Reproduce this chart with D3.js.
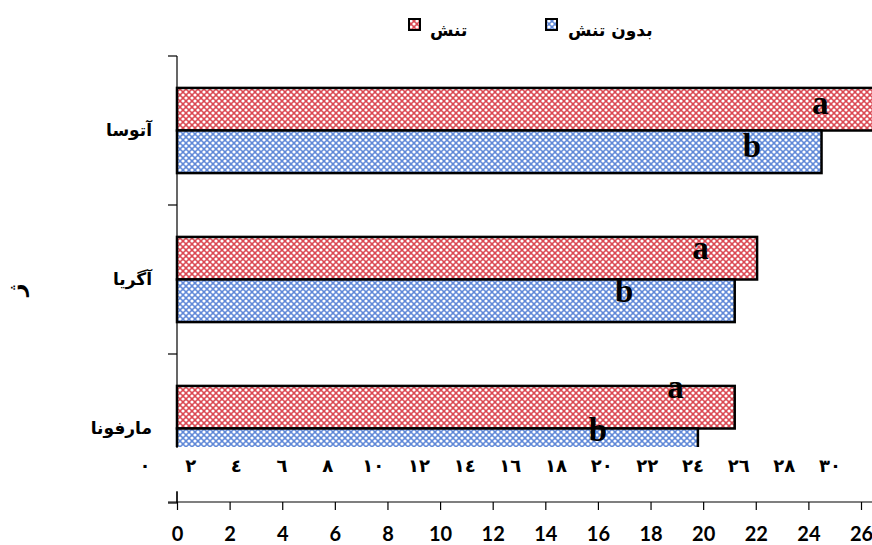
<!DOCTYPE html>
<html>
<head>
<meta charset="utf-8">
<script src="https://cdn.jsdelivr.net/npm/d3@7"></script>
<style>
  body { margin: 0; background: #fff; }
  svg { display: block; }
</style>
</head>
<body>
<div id="chart"></div>
<script>
// data
var genotypes = ["آتوسا", "آگریا", "مارفونا"];
var seriesNames = ["تنش", "بدون تنش"];
var stressValues = [27.2, 22.05, 21.2];
var noStressValues = [24.5, 21.2, 19.8];
var stressLetters = ["a", "a", "a"];
var noStressLetters = ["b", "b", "b"];
// where the letters sit, in axis units
var stressLetterAt = [24.45, 19.9, 18.95];
var noStressLetterAt = [21.85, 17.0, 16.0];
var letterLift = [6, 10, 20];
var xTicks = [0, 2, 4, 6, 8, 10, 12, 14, 16, 18, 20, 22, 24, 26];
var arabicTicks = [0, 2, 4, 6, 8, 10, 12, 14, 16, 18, 20, 22, 24, 26, 28, 30];

var width = 872, height = 545;
var colors = { "تنش": "#db4852", "بدون تنش": "#6089d8" };

var svg = d3.select("#chart").append("svg")
    .attr("width", width)
    .attr("height", height);

// hatch patterns
var defs = svg.append("defs");
seriesNames.forEach(function(s, i) {
  var p = defs.append("pattern")
      .attr("id", "hatch" + i)
      .attr("patternUnits", "userSpaceOnUse")
      .attr("width", 6).attr("height", 6);
  p.append("rect").attr("width", 6).attr("height", 6).attr("fill", colors[s]);
  [[0, 0], [6, 0], [0, 6], [6, 6], [3, 3]].forEach(function(c) {
    p.append("circle").attr("cx", c[0]).attr("cy", c[1]).attr("r", 1.6).attr("fill", "#fff");
  });
});
defs.append("clipPath").attr("id", "plotClip")
  .append("rect").attr("x", 0).attr("y", 0).attr("width", width).attr("height", 447);

// scales
var x = d3.scaleLinear().domain([0, 26]).range([177, 861]);
var y = d3.scaleBand().domain(genotypes).range([56, 503]).paddingInner(0).paddingOuter(0);
var ySub = d3.scaleBand().domain(seriesNames).range([0, y.bandwidth()]).paddingInner(0).paddingOuter(0.75);
var xArabic = d3.scaleLinear().domain([0, 30]).range([145, 830]);

var rows = genotypes.map(function(g, i) {
  return {
    g: g, i: i,
    bars: [
      { s: seriesNames[0], k: 0, v: stressValues[i], letter: stressLetters[i], at: stressLetterAt[i] },
      { s: seriesNames[1], k: 1, v: noStressValues[i], letter: noStressLetters[i], at: noStressLetterAt[i] }
    ]
  };
});

var plot = svg.append("g").attr("clip-path", "url(#plotClip)");

var groups = plot.selectAll("g.row")
    .data(rows)
    .enter().append("g")
    .attr("class", "row")
    .attr("transform", d => `translate(0, ${y(d.g)})`);

groups.selectAll("rect")
    .data(d => d.bars)
    .enter().append("rect")
    .attr("x", x(0))
    .attr("y", d => ySub(d.s))
    .attr("width", d => x(d.v) - x(0))
    .attr("height", ySub.bandwidth())
    .attr("fill", d => "url(#hatch" + d.k + ")")
    .attr("stroke", "#000")
    .attr("stroke-width", 2.5);

// y axis line + boundary ticks
var yAxis = svg.append("g");
yAxis.append("line")
    .attr("x1", x(0)).attr("x2", x(0))
    .attr("y1", y.range()[0]).attr("y2", y.range()[1])
    .attr("stroke", "#000").attr("stroke-width", 1.2);
var bounds = genotypes.map(g => y(g)).concat([y.range()[1]]);
yAxis.selectAll("line.tk")
    .data(bounds)
    .enter().append("line")
    .attr("class", "tk")
    .attr("x1", x(0) - 9).attr("x2", x(0))
    .attr("y1", d => d).attr("y2", d => d)
    .attr("stroke", "#000").attr("stroke-width", 1.2);

// letters
svg.selectAll("g.letters")
    .data(rows)
    .enter().append("g")
    .attr("class", "letters")
    .attr("transform", d => `translate(0, ${y(d.g) - letterLift[d.i]})`)
    .selectAll("text")
    .data(d => d.bars)
    .enter().append("text")
    .attr("x", d => x(d.at))
    .attr("y", d => ySub(d.s) + ySub.bandwidth() / 2)
    .attr("dy", "0.33em")
    .attr("text-anchor", "middle")
    .style("font-family", "'Liberation Serif', 'DejaVu Serif', serif")
    .style("font-weight", "bold")
    .style("font-size", "33px")
    .text(d => d.letter);

// category labels
svg.selectAll("text.cat")
    .data(genotypes)
    .enter().append("text")
    .attr("class", "cat")
    .attr("x", 152)
    .attr("y", d => y(d) + y.bandwidth() / 2)
    .attr("dy", "0.35em")
    .attr("text-anchor", "end")
    .style("font-family", "'DejaVu Sans', sans-serif")
    .style("font-weight", "bold")
    .style("font-size", "17px")
    .text(d => d);

// axis title (mostly hidden in the original)
svg.append("text")
    .attr("transform", "translate(24, 290) rotate(-90)")
    .attr("text-anchor", "middle")
    .style("font-family", "'DejaVu Sans', sans-serif")
    .style("font-weight", "bold")
    .style("font-size", "22px")
    .text("ژ");

// white band with Arabic-Indic numbers
svg.append("rect")
    .attr("x", 0).attr("y", 448)
    .attr("width", width).attr("height", 43)
    .attr("fill", "#fff");

var toArabic = function(n) {
  return String(n).replace(/\d/g, c => String.fromCharCode(0x0660 + (+c)));
};
svg.selectAll("text.ar")
    .data(arabicTicks)
    .enter().append("text")
    .attr("class", "ar")
    .attr("x", d => xArabic(d))
    .attr("y", 472)
    .attr("text-anchor", "middle")
    .style("font-family", "'DejaVu Sans', sans-serif")
    .style("font-weight", "bold")
    .style("font-size", "18px")
    .text(d => toArabic(d));

// x axis
var xAxisG = svg.append("g")
    .attr("transform", "translate(0, 502)")
    .call(d3.axisBottom(x).tickValues(xTicks).tickSizeInner(8).tickSizeOuter(0).tickPadding(17));
xAxisG.select(".domain").remove();
xAxisG.append("line")
    .attr("x1", x(0) - 9).attr("x2", width)
    .attr("stroke", "#000").attr("stroke-width", 1.2);
xAxisG.selectAll(".tick line").attr("stroke-width", 1.2);
xAxisG.append("line")
    .attr("x1", x(0)).attr("x2", x(0)).attr("y1", -10).attr("y2", 0)
    .attr("stroke", "#000").attr("stroke-width", 1.2);
xAxisG.selectAll(".tick text")
    .style("font-family", "Lato, 'Open Sans', sans-serif")
    .style("font-weight", "bold")
    .style("font-size", "20px")
    .attr("fill", "#000");

// legend
var legendItems = [
  { s: seriesNames[1], k: 1, bx: 546, tx: 568 },
  { s: seriesNames[0], k: 0, bx: 409, tx: 430 }
];
var legend = svg.append("g");
legendItems.forEach(function(d) {
  legend.append("rect")
      .attr("x", d.bx).attr("y", 19)
      .attr("width", 11).attr("height", 11)
      .attr("fill", "url(#hatch" + d.k + ")")
      .attr("stroke", "#000").attr("stroke-width", 2);
  legend.append("text")
      .attr("x", d.tx).attr("y", 36)
      .attr("text-anchor", "start")
      .style("font-family", "'DejaVu Sans', sans-serif")
      .style("font-weight", "bold")
      .style("font-size", "17px")
      .text(d.s);
});
</script>
</body>
</html>
